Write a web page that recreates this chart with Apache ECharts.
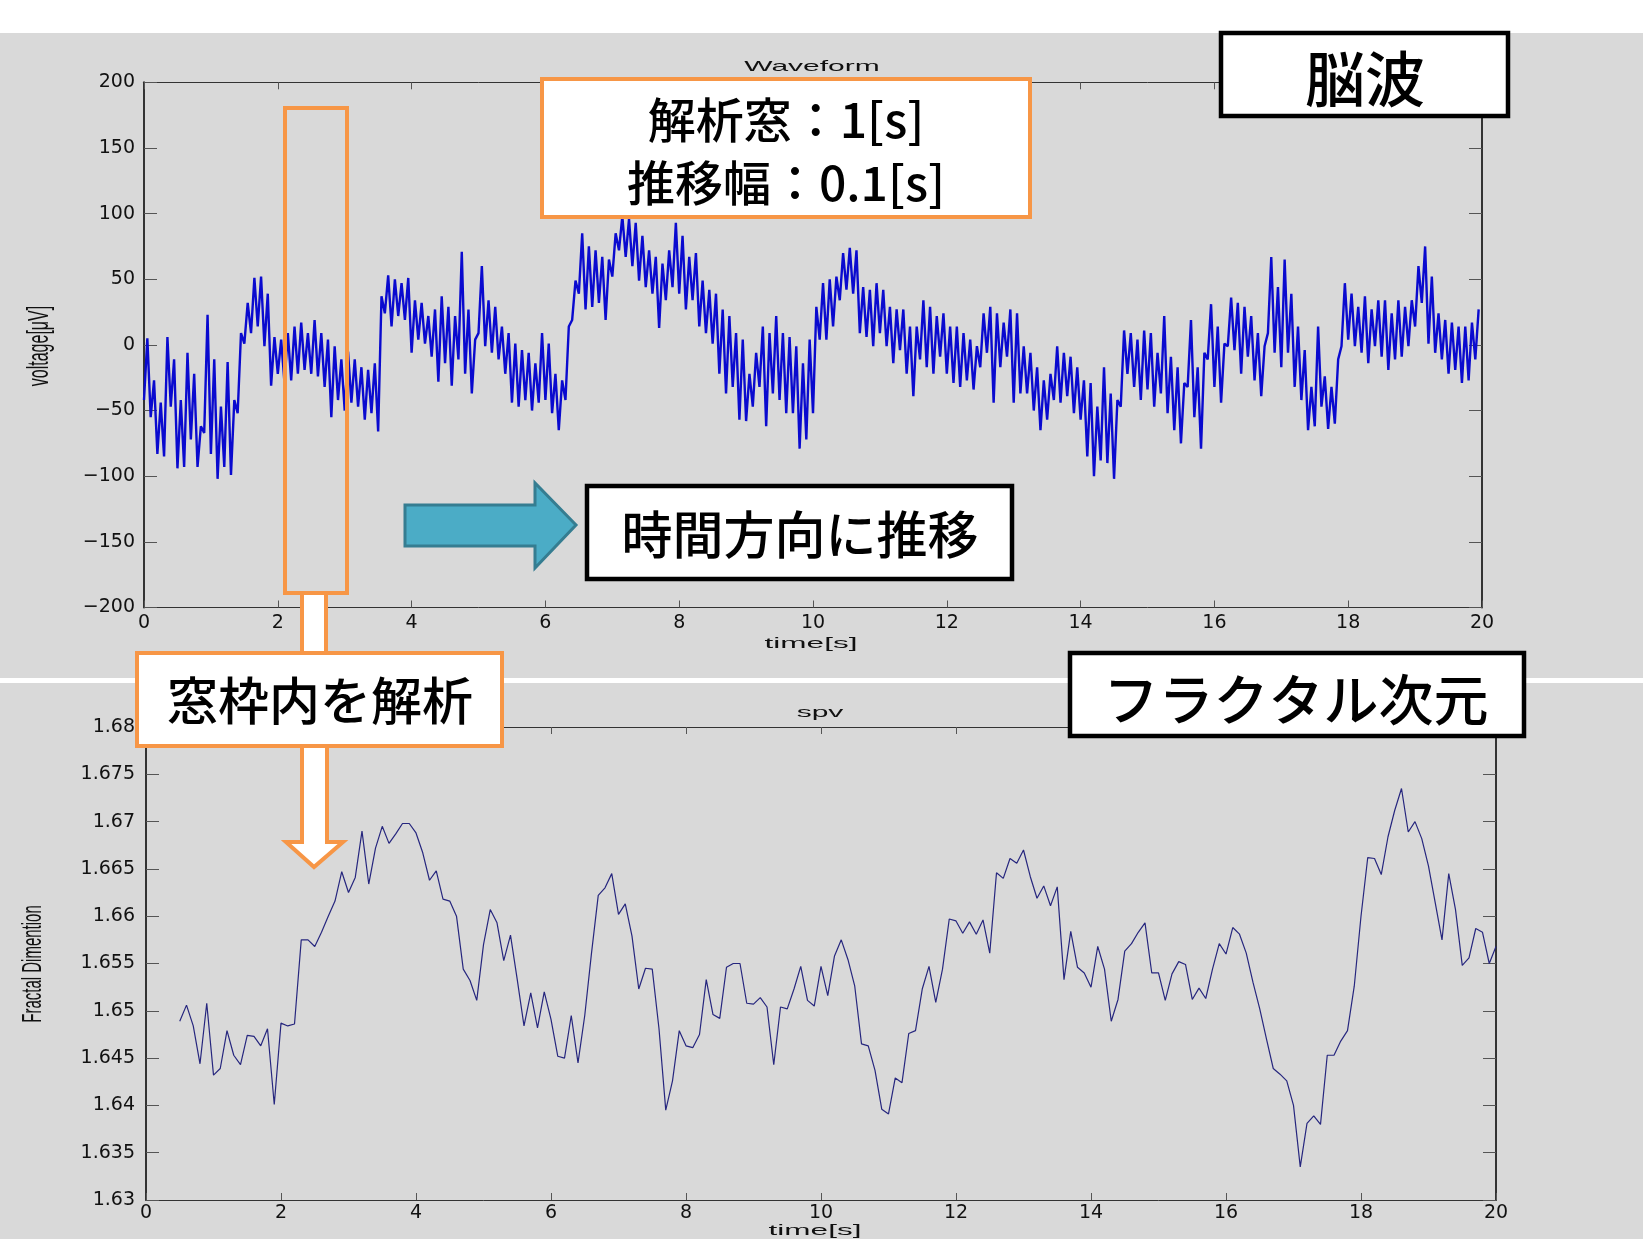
<!DOCTYPE html>
<html>
<head>
<meta charset="utf-8">
<title>脳波とフラクタル次元</title>
<script src="https://cdn.jsdelivr.net/npm/echarts@6/dist/echarts.min.js"></script>
<style>
    html, body { margin: 0; padding: 0; background: #fff; }
    #container { width: 1643px; height: 1239px; }
</style>
</head>
<body>
<div id="container"></div>
<script>
// 脳波：0.1秒ごとの振れ幅（下端・上端）[μV]
var waveLo = [
    -42, -55, -83, -85, -47, -94, -93, -72, -93, -67,
    -83, -102, -93, -99, -52, 1, 9, 14, -1, -31,
    -22, -29, -27, -22, -19, -22, -24, -32, -55, -42,
    -50, -44, -47, -57, -52, -66, 24, 14, 22, 19,
    -6, 4, 1, -9, -28, -14, -31, -11, -22, -37,
    9, -1, -6, -11, -22, -44, -47, -42, -50, -44,
    -42, -52, -65, -42, 19, 39, 27, 29, 32, 19,
    52, 72, 67, 60, 49, 44, 39, 13, 34, 44,
    39, 27, 34, 14, 9, 1, -22, -37, -32, -57,
    -58, -47, -32, -62, -37, -42, -52, -52, -79, -72,
    -52, 4, 4, 14, 34, 42, 39, 9, 6, -1,
    9, -1, -14, -4, -22, -39, -11, -17, -22, -9,
    -22, -29, -32, -27, -34, -17, -6, -44, -17, -9,
    -44, -37, -37, -50, -65, -57, -42, -44, -39, -52,
    -57, -85, -100, -88, -90, -102, -47, -22, -32, -42,
    -34, -47, -37, -52, -65, -75, -32, -55, -79, -11,
    -32, -44, -1, -4, -22, -9, -27, -39, 9, -6,
    -17, -6, -32, -42, -65, -62, -47, -64, -60, -1,
    4, -1, -6, -14, -1, -9, -19, -11, -9, -1,
    14, 32, 1, -6, -11, -22, -19, -29, -27, -11
];
var waveHi = [
    5, -27, -44, 6, -11, -42, -6, -22, -62, 23,
    -11, -47, -13, -42, 9, 32, 51, 52, 39, 6,
    4, 9, 14, 17, 9, 19, 9, 4, -1, -11,
    -5, -11, -17, -19, -14, 37, 53, 50, 47, 51,
    34, 32, 22, 27, 37, 29, 22, 71, 27, 4,
    60, 34, 29, 14, 9, 1, -4, -6, -14, 9,
    1, -22, -27, 14, 49, 85, 75, 72, 67, 65,
    85, 98, 96, 93, 83, 72, 67, 62, 72, 93,
    83, 67, 70, 49, 42, 39, 27, 22, 9, 4,
    -22, -6, 14, 9, 22, 9, 6, -1, -14, 4,
    29, 47, 50, 52, 70, 74, 72, 44, 42, 47,
    42, 29, 27, 27, 14, 14, 34, 29, 22, 24,
    14, 14, 9, 4, -1, 24, 29, 24, 17, 27,
    24, -1, -6, -17, -27, -22, -1, -6, -9, -17,
    -27, -29, -47, -17, -37, -42, 11, 9, 4, 11,
    9, -6, 22, -9, -17, -29, 19, -17, -6, 31,
    14, 1, 36, 32, 29, 22, 9, -1, 67, 44,
    65, 39, 14, -4, -32, 14, -24, -32, -11, 47,
    39, 29, 37, 27, 34, 34, 24, 34, 29, 34,
    60, 75, 52, 24, 19, 17, 14, 14, 17, 27
];

// フラクタル次元：0.5秒から0.1秒ごと
var fdValues = [
    1.6489, 1.6506, 1.6484, 1.6444, 1.6508, 1.6432, 1.6439, 1.6479, 1.6453, 1.6443,
    1.6474, 1.6473, 1.6463, 1.6481, 1.6401, 1.6487, 1.6484, 1.6486, 1.6575, 1.6575,
    1.6568, 1.6583, 1.6600, 1.6616, 1.6647, 1.6625, 1.6641, 1.6690, 1.6634, 1.6672,
    1.6695, 1.6677, 1.6687, 1.6698, 1.6698, 1.6688, 1.6667, 1.6638, 1.6648, 1.6618,
    1.6616, 1.6600, 1.6544, 1.6532, 1.6511, 1.6570, 1.6607, 1.6593, 1.6553, 1.6580,
    1.6533, 1.6484, 1.6519, 1.6482, 1.6520, 1.6491, 1.6452, 1.6450, 1.6495, 1.6445,
    1.6495, 1.6561, 1.6622, 1.6630, 1.6645, 1.6602, 1.6613, 1.6579, 1.6523, 1.6545,
    1.6544, 1.6481, 1.6395, 1.6426, 1.6479, 1.6463, 1.6461, 1.6475, 1.6533, 1.6496,
    1.6492, 1.6546, 1.6550, 1.6550, 1.6508, 1.6507, 1.6514, 1.6504, 1.6443, 1.6504,
    1.6502, 1.6523, 1.6547, 1.6511, 1.6505, 1.6547, 1.6516, 1.6558, 1.6575, 1.6554,
    1.6526, 1.6465, 1.6463, 1.6437, 1.6396, 1.6391, 1.6429, 1.6424, 1.6476, 1.6479,
    1.6523, 1.6547, 1.6509, 1.6544, 1.6597, 1.6595, 1.6582, 1.6594, 1.6581, 1.6596,
    1.6561, 1.6646, 1.6640, 1.6661, 1.6656, 1.6670, 1.6642, 1.6619, 1.6632, 1.6611,
    1.6631, 1.6533, 1.6584, 1.6546, 1.6540, 1.6525, 1.6568, 1.6544, 1.6489, 1.6512,
    1.6563, 1.6571, 1.6583, 1.6593, 1.6540, 1.6540, 1.6511, 1.6539, 1.6552, 1.6549,
    1.6512, 1.6524, 1.6513, 1.6544, 1.6571, 1.6560, 1.6588, 1.6581, 1.6561, 1.6530,
    1.6502, 1.6470, 1.6439, 1.6433, 1.6426, 1.6400, 1.6335, 1.6381, 1.6389, 1.6380,
    1.6453, 1.6453, 1.6468, 1.6479, 1.6526, 1.6600, 1.6662, 1.6661, 1.6644, 1.6684,
    1.6712, 1.6735, 1.6689, 1.6700, 1.6682, 1.6653, 1.6614, 1.6575, 1.6645, 1.6607,
    1.6548, 1.6556, 1.6587, 1.6583, 1.6550, 1.6568
];

// 軸の範囲
var timeRange = [0, 20, 2];
var voltRange = [-200, 200, 50];
var fdRange = [1.63, 1.68, 0.005];

var privateFn = {};
var AXIS_COLOR = '#333';
var TICK_FONT = 'DejaVu Sans';
var JP_FONT = '"Noto Sans CJK JP", sans-serif';
var ORANGE = '#f79646';

/**
 * 0.1秒ごとの下端・上端を交互に並べて波形にする
 */
privateFn.buildWave = function () {
    var out = [];
    for (var i = 0; i < waveLo.length; i++) {
        out.push([i / 10, waveLo[i]]);
        out.push([(2 * i + 1) / 20, waveHi[i]]);
    }
    return out;
};

privateFn.buildFd = function () {
    return fdValues.map(function (v, i) {
        return [(5 + i) / 10, v];
    });
};

/**
 * MATLAB風の箱型の軸（目盛りは内向き）
 */
privateFn.xAxis = function (gridIndex, position, labelMargin) {
    var withLabel = position === 'bottom';
    return {
        type: 'value', gridIndex: gridIndex, position: position,
        min: timeRange[0], max: timeRange[1], interval: timeRange[2],
        axisLine: { show: true, onZero: false, lineStyle: { color: AXIS_COLOR, width: 1 } },
        axisTick: { show: true, inside: true, length: 7, lineStyle: { color: '#555' } },
        axisLabel: { show: withLabel, margin: labelMargin, color: '#111', fontSize: 19, fontFamily: TICK_FONT },
        splitLine: { show: false }
    };
};

privateFn.yAxis = function (gridIndex, position, range, formatter, labelMargin) {
    var withLabel = position === 'left';
    return {
        type: 'value', gridIndex: gridIndex, position: position,
        min: range[0], max: range[1], interval: range[2],
        axisLine: { show: true, onZero: false, lineStyle: { color: AXIS_COLOR, width: 2 } },
        axisTick: { show: true, inside: true, length: 13, lineStyle: { color: '#555' } },
        axisLabel: { show: withLabel, margin: labelMargin, color: '#111', fontSize: 19, fontFamily: TICK_FONT, formatter: formatter },
        splitLine: { show: false }
    };
};

privateFn.smallText = function (text, x, y, opt) {
    opt = opt || {};
    return {
        type: 'text', x: x, y: y, z: 50,
        rotation: opt.rotation || 0,
        scaleX: opt.scaleX || 1, scaleY: opt.scaleY || 1,
        style: {
            text: text, fill: '#111', fontSize: opt.fontSize || 15,
            fontFamily: 'Liberation Sans', align: 'center', verticalAlign: 'middle'
        }
    };
};

privateFn.box = function (x, y, w, h, color, lw) {
    return {
        type: 'rect', z: 100,
        shape: { x: x, y: y, width: w, height: h },
        style: { fill: '#fff', stroke: color, lineWidth: lw }
    };
};

privateFn.label = function (text, x, y, size) {
    return {
        type: 'text', x: x, y: y, z: 101,
        style: {
            text: text, fill: '#000', fontSize: size, fontFamily: JP_FONT, fontWeight: 500,
            align: 'center', verticalAlign: 'middle', lineHeight: 63
        }
    };
};

privateFn.getOptions = function () {
    var voltFmt = function (v) { return v < 0 ? '\u2212' + (-v) : String(v); };
    var fdFmt = function (v) { return String(+v.toFixed(3)); };
    return {
        backgroundColor: '#d9d9d9',
        animation: false,
        grid: [
            { left: 144, top: 82.3, width: 1338, height: 525.2 },
            { left: 146, top: 727, width: 1350, height: 473 }
        ],
        xAxis: [
            privateFn.xAxis(0, 'bottom', 6),
            privateFn.xAxis(0, 'top', 0),
            privateFn.xAxis(1, 'bottom', 4),
            privateFn.xAxis(1, 'top', 0)
        ],
        yAxis: [
            privateFn.yAxis(0, 'left', voltRange, voltFmt, 9),
            privateFn.yAxis(0, 'right', voltRange, voltFmt, 0),
            privateFn.yAxis(1, 'left', fdRange, fdFmt, 11),
            privateFn.yAxis(1, 'right', fdRange, fdFmt, 0)
        ],
        series: [
            {
                name: 'Waveform', type: 'line', xAxisIndex: 0, yAxisIndex: 0,
                data: privateFn.buildWave(), symbol: 'none', silent: true,
                lineStyle: { color: '#0a0acf', width: 2.4 }
            },
            {
                name: 'spv', type: 'line', xAxisIndex: 2, yAxisIndex: 2,
                data: privateFn.buildFd(), symbol: 'none', silent: true,
                lineStyle: { color: '#26267e', width: 1.2 }
            }
        ],
        graphic: {
            elements: [
                // 背景の白い帯と区切り線
                { type: 'rect', z: -10, shape: { x: 0, y: 0, width: 1643, height: 33 }, style: { fill: '#fff' } },
                { type: 'rect', z: -10, shape: { x: 0, y: 678, width: 1643, height: 5 }, style: { fill: '#fff' } },

                // 見出し・軸名
                privateFn.smallText('Waveform', 812, 67, { scaleX: 2.0 }),
                privateFn.smallText('time[s]', 811, 644, { scaleX: 2.1 }),
                privateFn.smallText('voltage[μV]', 40, 346, { rotation: Math.PI / 2, scaleY: 1.9, fontSize: 16 }),
                privateFn.smallText('spv', 820, 713, { scaleX: 2.0 }),
                privateFn.smallText('time[s]', 815, 1231, { scaleX: 2.1 }),
                privateFn.smallText('Fractal Dimention', 33, 964, { rotation: Math.PI / 2, scaleY: 1.9, fontSize: 15 }),

                // 解析窓
                {
                    type: 'rect', z: 100,
                    shape: { x: 285, y: 108, width: 62, height: 485 },
                    style: { fill: 'none', stroke: ORANGE, lineWidth: 4 }
                },
                {
                    type: 'rect', z: 99,
                    shape: { x: 302, y: 593, width: 24, height: 61 },
                    style: { fill: '#fff', stroke: ORANGE, lineWidth: 4 }
                },
                privateFn.box(542, 79, 488, 138, ORANGE, 4),
                privateFn.label('解析窓：1[s]\n推移幅：0.1[s]', 786, 151, 48),

                privateFn.box(137, 653, 365, 93, ORANGE, 4),
                privateFn.label('窓枠内を解析', 320, 701, 51),
                {
                    type: 'polygon', z: 99,
                    shape: { points: [[302, 744], [327, 744], [327, 842], [343, 842], [314, 867], [286, 842], [302, 842]] },
                    style: { fill: '#fff', stroke: ORANGE, lineWidth: 4 }
                },

                // 時間方向の矢印
                {
                    type: 'polygon', z: 100,
                    shape: { points: [[405, 505], [535, 505], [535, 483], [576, 525], [535, 568], [535, 546], [405, 546]] },
                    style: { fill: '#4bacc6', stroke: '#357d91', lineWidth: 3 }
                },
                privateFn.box(587, 486, 425, 93, '#000', 4.5),
                privateFn.label('時間方向に推移', 800, 535, 51),

                privateFn.box(1221, 33, 287, 83, '#000', 4.5),
                privateFn.label('脳波', 1365, 79, 60),

                privateFn.box(1070, 653, 454, 83, '#000', 4.5),
                privateFn.label('フラクタル次元', 1296, 699, 55)
            ]
        }
    };
};

// init
! function () {
    var chart = echarts.init(document.getElementById('container'), null, { renderer: 'canvas' });
    chart.setOption(privateFn.getOptions(), true);
}();
</script>
</body>
</html>
